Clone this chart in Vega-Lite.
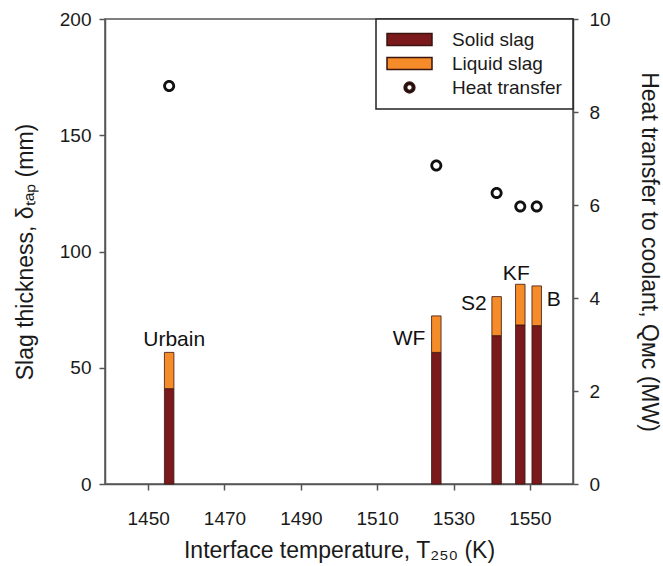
{
  "$schema": "https://vega.github.io/schema/vega-lite/v6.json",
  "width": 468,
  "height": 465,
  "autosize": "none",
  "padding": {"left": 105, "top": 19, "right": 90, "bottom": 82},
  "config": {
    "font": "Liberation Sans",
    "view": {"stroke": "#555", "strokeWidth": 1.5},
    "axis": {
      "grid": false,
      "domainColor": "#555",
      "domainWidth": 1.5,
      "tickColor": "#555",
      "tickWidth": 1.5,
      "labelFont": "Liberation Sans",
      "labelFontSize": 19,
      "labelColor": "#1a1a1a",
      "labelFlush": false,
      "titleFont": "Liberation Sans",
      "titleFontSize": 23,
      "titleFontWeight": "normal",
      "titleColor": "#1a1a1a"
    },
    "legend": {"strokeWidth": 1.5}
  },
  "datasets": {
    "slag": [
      {"sample": "Urbain", "temp": 1455.5, "layer": "Solid slag", "mm": 41.0},
      {"sample": "Urbain", "temp": 1455.5, "layer": "Liquid slag", "mm": 15.6},
      {"sample": "WF", "temp": 1525.5, "layer": "Solid slag", "mm": 56.6},
      {"sample": "WF", "temp": 1525.5, "layer": "Liquid slag", "mm": 15.7},
      {"sample": "S2", "temp": 1541.3, "layer": "Solid slag", "mm": 63.8},
      {"sample": "S2", "temp": 1541.3, "layer": "Liquid slag", "mm": 16.8},
      {"sample": "KF", "temp": 1547.5, "layer": "Solid slag", "mm": 68.4},
      {"sample": "KF", "temp": 1547.5, "layer": "Liquid slag", "mm": 17.5},
      {"sample": "B", "temp": 1551.8, "layer": "Solid slag", "mm": 68.1},
      {"sample": "B", "temp": 1551.8, "layer": "Liquid slag", "mm": 17.1}
    ],
    "heat": [
      {"sample": "Urbain", "temp": 1455.5, "mw": 8.56},
      {"sample": "WF", "temp": 1525.5, "mw": 6.85},
      {"sample": "S2", "temp": 1541.3, "mw": 6.26},
      {"sample": "KF", "temp": 1547.5, "mw": 5.97},
      {"sample": "B", "temp": 1551.8, "mw": 5.97}
    ]
  },
  "layer": [
    {
      "data": {"name": "slag"},
      "layer": [
        {
          "mark": {"type": "bar", "orient": "vertical", "size": 9.5, "stroke": "#3a1510", "strokeWidth": 0.8},
          "encoding": {
            "x": {
              "field": "temp",
              "type": "quantitative",
              "scale": {"domain": [1440, 1560], "nice": false, "zero": false},
              "axis": {
                "values": [1450, 1470, 1490, 1510, 1530, 1550],
                "format": "d",
                "tickSize": 6,
                "labelPadding": 19,
                "title": "Interface temperature, T₂₅₀ (K)",
                "titleBaseline": "alphabetic",
                "titleY": 73
              }
            },
            "y": {
              "field": "mm",
              "type": "quantitative",
              "stack": "zero",
              "scale": {"domain": [0, 200], "nice": false},
              "axis": {
                "orient": "left",
                "values": [0, 50, 100, 150, 200],
                "tickSize": 6,
                "labelPadding": 8,
                "title": "Slag thickness, δₜₐₚ (mm)",
                "titleBaseline": "alphabetic",
                "titleX": -73
              }
            },
            "color": {
              "field": "layer",
              "type": "nominal",
              "scale": {
                "domain": ["Solid slag", "Liquid slag", "Heat transfer"],
                "range": ["#7b1a1c", "#f68b29", "#111111"]
              },
              "legend": {
                "title": null,
                "orient": "top-right",
                "offset": 0,
                "padding": 11,
                "strokeColor": "#222",
                "fillColor": "white",
                "labelFont": "Liberation Sans",
                "labelFontSize": 19,
                "labelColor": "#1a1a1a",
                "symbolSize": 144,
                "symbolOffset": 13,
                "labelOffset": 33,
                "rowPadding": 4
              }
            },
            "order": {"field": "layer", "sort": "descending"}
          }
        },
        {
          "transform": [
            {"filter": "datum.sample === 'Urbain'"},
            {"aggregate": [{"op": "sum", "field": "mm", "as": "mm"}], "groupby": ["sample", "temp"]}
          ],
          "mark": {"type": "text", "align": "center", "baseline": "alphabetic", "dx": 5, "dy": -6, "fontSize": 21, "color": "#111"},
          "encoding": {
            "x": {"field": "temp", "type": "quantitative"},
            "y": {"field": "mm", "type": "quantitative"},
            "text": {"field": "sample"}
          }
        },
        {
          "transform": [
            {"filter": "datum.sample === 'WF'"},
            {"aggregate": [{"op": "sum", "field": "mm", "as": "mm"}], "groupby": ["sample", "temp"]}
          ],
          "mark": {"type": "text", "align": "right", "baseline": "alphabetic", "dx": -11, "dy": 29, "fontSize": 21, "color": "#111"},
          "encoding": {
            "x": {"field": "temp", "type": "quantitative"},
            "y": {"field": "mm", "type": "quantitative"},
            "text": {"field": "sample"}
          }
        },
        {
          "transform": [
            {"filter": "datum.sample === 'S2'"},
            {"aggregate": [{"op": "sum", "field": "mm", "as": "mm"}], "groupby": ["sample", "temp"]}
          ],
          "mark": {"type": "text", "align": "right", "baseline": "alphabetic", "dx": -10, "dy": 13, "fontSize": 21, "color": "#111"},
          "encoding": {
            "x": {"field": "temp", "type": "quantitative"},
            "y": {"field": "mm", "type": "quantitative"},
            "text": {"field": "sample"}
          }
        },
        {
          "transform": [
            {"filter": "datum.sample === 'KF'"},
            {"aggregate": [{"op": "sum", "field": "mm", "as": "mm"}], "groupby": ["sample", "temp"]}
          ],
          "mark": {"type": "text", "align": "center", "baseline": "alphabetic", "dx": -4, "dy": -4, "fontSize": 21, "color": "#111"},
          "encoding": {
            "x": {"field": "temp", "type": "quantitative"},
            "y": {"field": "mm", "type": "quantitative"},
            "text": {"field": "sample"}
          }
        },
        {
          "transform": [
            {"filter": "datum.sample === 'B'"},
            {"aggregate": [{"op": "sum", "field": "mm", "as": "mm"}], "groupby": ["sample", "temp"]}
          ],
          "mark": {"type": "text", "align": "left", "baseline": "alphabetic", "dx": 10, "dy": 20, "fontSize": 21, "color": "#111"},
          "encoding": {
            "x": {"field": "temp", "type": "quantitative"},
            "y": {"field": "mm", "type": "quantitative"},
            "text": {"field": "sample"}
          }
        }
      ]
    },
    {
      "data": {"name": "heat"},
      "mark": {"type": "point", "filled": true, "color": "#111", "size": 178, "opacity": 1},
      "encoding": {
        "x": {"field": "temp", "type": "quantitative"},
        "y": {
          "field": "mw",
          "type": "quantitative",
          "scale": {"domain": [0, 10], "nice": false},
          "axis": {
            "orient": "right",
            "values": [0, 2, 4, 6, 8, 10],
            "tickSize": 5,
            "labelPadding": 11,
            "title": "Heat transfer to coolant, Qᴍᴄ (MW)",
            "titleAngle": 90,
            "titleBaseline": "alphabetic",
            "titleX": 68
          }
        },
        "shape": {
          "datum": "Heat transfer",
          "scale": {
            "domain": ["Solid slag", "Liquid slag", "Heat transfer"],
            "range": [
              "M-3.75,-1H3.75V1H-3.75Z",
              "M-3.75,-1H3.75V1H-3.75Z",
              "M0.9,0C0.9,0.497 0.497,0.9 0,0.9C-0.497,0.9 -0.9,0.497 -0.9,0C-0.9,-0.497 -0.497,-0.9 0,-0.9C0.497,-0.9 0.9,-0.497 0.9,0Z M0.48,0C0.48,-0.265 0.265,-0.48 0,-0.48C-0.265,-0.48 -0.48,-0.265 -0.48,0C-0.48,0.265 -0.265,0.48 0,0.48C0.265,0.48 0.48,0.265 0.48,0Z"
            ]
          },
          "legend": {"title": null, "orient": "top-right"}
        }
      }
    }
  ],
  "resolve": {"scale": {"y": "independent"}}
}
